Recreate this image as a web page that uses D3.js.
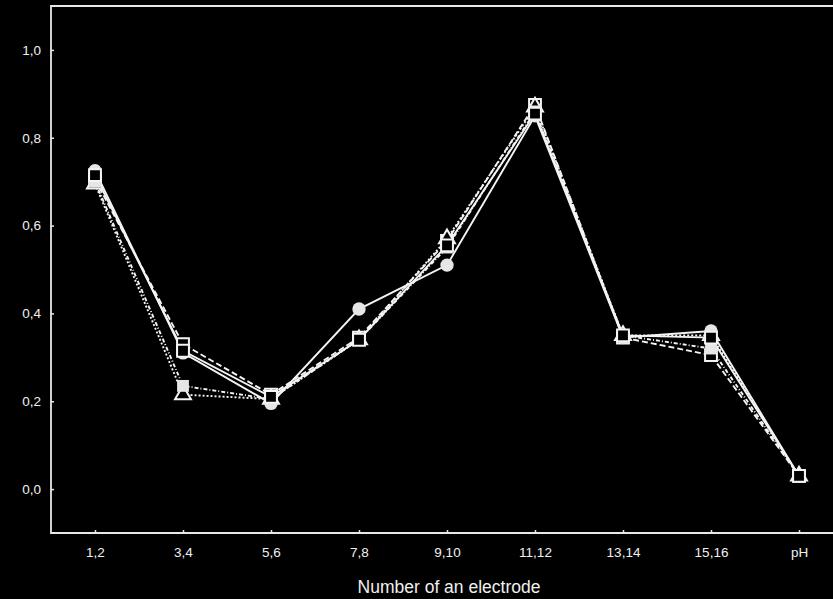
<!DOCTYPE html>
<html>
<head>
<meta charset="utf-8">
<script src="https://cdn.jsdelivr.net/npm/d3@7"></script>
<style>
  html, body { margin: 0; padding: 0; background: #000; }
  svg { display: block; }
  text { font-family: "Liberation Sans", Arial, sans-serif; fill: #f0f0f0; }
</style>
</head>
<body>
<svg id="chart" width="833" height="599"></svg>
<script>
// Electrode pairs along the x axis
const categories = ["1,2", "3,4", "5,6", "7,8", "9,10", "11,12", "13,14", "15,16", "pH"];
const yTicks = [0.0, 0.2, 0.4, 0.6, 0.8, 1.0];

// Measured series, one value per electrode pair
const seriesFilledCircle = [0.725, 0.31, 0.195, 0.41, 0.51, 0.85, 0.345, 0.36, 0.03];
const seriesOpenSquare   = [0.715, 0.315, 0.21, 0.34, 0.555, 0.855, 0.35, 0.345, 0.03];
const seriesFilledSquare = [0.70, 0.235, 0.205, 0.34, 0.55, 0.86, 0.35, 0.32, 0.03];
const seriesTriangle     = [0.695, 0.215, 0.205, 0.34, 0.57, 0.87, 0.35, 0.35, 0.03];
const seriesDashSquare   = [0.705, 0.33, 0.215, 0.345, 0.565, 0.875, 0.345, 0.305, 0.03];

const series = [
  { values: seriesDashSquare,   marker: "square",  fill: false, dash: "6,3" },
  { values: seriesTriangle,     marker: "triangle", fill: false, dash: "2,2" },
  { values: seriesFilledSquare, marker: "square",  fill: true,  dash: "4,2,1,2" },
  { values: seriesFilledCircle, marker: "circle",  fill: true,  dash: null },
  { values: seriesOpenSquare,   marker: "square",  fill: false, dash: null }
];

const svg = d3.select("#chart");
const plotLeft = 51, plotTop = 6, plotBottom = 533, plotRight = 843;

const x = d3.scalePoint().domain(categories).range([plotLeft, plotRight]).padding(0.5);
const y = d3.scaleLinear().domain([-0.1, 1.1]).range([plotBottom, plotTop]);

const fmt = v => d3.format(".1f")(v).replace(".", ",");

// Frame
svg.append("path")
  .attr("d", `M${plotRight + 10},${plotTop}H${plotLeft}V${plotBottom}H${plotRight + 10}`)
  .attr("fill", "none").attr("stroke", "#e8e8e8").attr("stroke-width", 1.8);

// Y axis (ticks pointing inward)
const yAxis = svg.append("g").attr("transform", `translate(${plotLeft},0)`)
  .call(d3.axisRight(y).tickValues(yTicks).tickSize(3).tickFormat(fmt));
yAxis.select(".domain").remove();
yAxis.selectAll("line").attr("stroke", "#e8e8e8").attr("stroke-width", 1.5);
yAxis.selectAll("text").attr("x", -10).attr("text-anchor", "end")
  .attr("font-size", 13.5).attr("fill", "#f0f0f0");

// X axis (ticks pointing inward)
const xAxis = svg.append("g").attr("transform", `translate(0,${plotBottom})`)
  .call(d3.axisTop(x).tickSize(3));
xAxis.select(".domain").remove();
xAxis.selectAll("line").attr("stroke", "#e8e8e8").attr("stroke-width", 1.5);
xAxis.selectAll("text").attr("y", 14).attr("dy", "0.71em")
  .attr("font-size", 13.5).attr("fill", "#f0f0f0");

// Axis title
svg.append("text")
  .attr("x", 449).attr("y", 593)
  .attr("text-anchor", "middle")
  .attr("font-size", 17.5)
  .text("Number of an electrode");

// Lines
const line = d3.line().x((d, i) => x(categories[i])).y(d => y(d));
series.forEach(s => {
  svg.append("path")
    .datum(s.values)
    .attr("d", line)
    .attr("fill", "none")
    .attr("stroke", "#f4f4f4")
    .attr("stroke-width", 1.9)
    .attr("stroke-dasharray", s.dash);
});

// Markers
const sym = { circle: d3.symbolCircle, square: d3.symbolSquare, triangle: d3.symbolTriangle };
series.forEach(s => {
  svg.append("g").selectAll("path")
    .data(s.values)
    .join("path")
    .attr("transform", (d, i) => `translate(${x(categories[i])},${y(d)})`)
    .attr("d", d3.symbol().type(sym[s.marker]).size(s.marker === "triangle" ? 110 : 140))
    .attr("fill", s.fill ? "#e6e6e6" : "#000")
    .attr("stroke", "#f4f4f4")
    .attr("stroke-width", s.fill ? 0 : 2);
});
</script>
</body>
</html>
